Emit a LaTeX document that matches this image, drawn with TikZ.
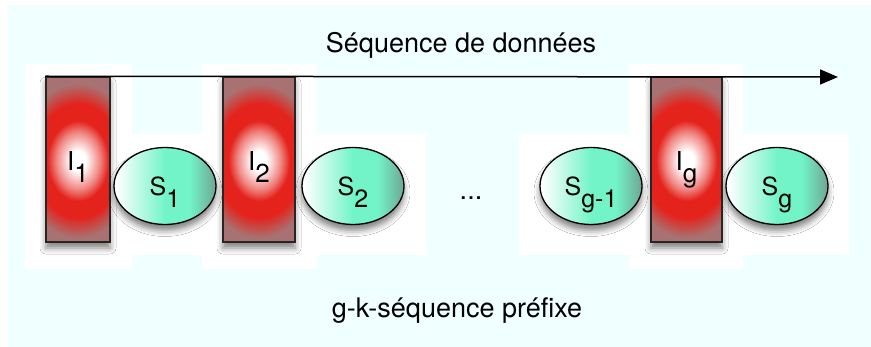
\documentclass[tikz,border=0pt]{standalone}
\usepackage{fontspec}
\setmainfont{TeX Gyre Heros}
\usetikzlibrary{arrows.meta,shapes.geometric,shadows.blur}

\definecolor{bgcyan}{HTML}{F0FFFF}
\definecolor{glowred}{HTML}{E4231C}
\definecolor{dullred}{HTML}{A87272}
\definecolor{aqua}{HTML}{72F4C8}
\definecolor{sage}{HTML}{6FA593}

\pgfdeclareradialshading{redglow}{\pgfpoint{0bp}{0bp}}{color(0bp)=(white);
  color(3bp)=(white); color(8.5bp)=(white!45!glowred); color(12bp)=(glowred);
  color(17bp)=(glowred); color(23bp)=(dullred); color(50bp)=(dullred)}
\pgfdeclarehorizontalshading{aquafade}{100bp}{color(0bp)=(white);
  color(26bp)=(white); color(50bp)=(aqua); color(62bp)=(aqua);
  color(75bp)=(sage); color(100bp)=(sage)}

\newcommand\idx[1]{\raisebox{-0.45em}{#1}}

\tikzset{
  softshadow/.style={blur shadow={shadow xshift=0pt,shadow yshift=-6pt,
      shadow blur radius=6pt,shadow opacity=50}},
  itembox/.style={draw=black!85,line width=1.5pt,minimum height=165pt,
      inner sep=0pt,fill=dullred,softshadow,font=\fontsize{26}{28}\selectfont,
      text height=23pt,text depth=0pt,
      path picture={\shade[shading=redglow]
        ([shift={(-64pt,-85pt)}]path picture bounding box.center) rectangle
        ([shift={(64pt,75pt)}]path picture bounding box.center);}},
  seqblob/.style={ellipse,draw=black,line width=1.3pt,minimum width=102pt,
      minimum height=77pt,inner sep=0pt,softshadow,shading=aquafade,
      font=\fontsize{25}{28}\selectfont,text height=20pt,text depth=0pt},
  caption/.style={anchor=base,font=\fontsize{27}{30}\selectfont},
}

\begin{document}
\begin{tikzpicture}[x=1pt,y=-1pt]
      \useasboundingbox (0,0) rectangle (871,347) ;
      \fill[bgcyan] (8,5) rectangle (871,347) ;
      % white patches behind the shapes
      \fill[white] (25,64) rectangle (132,269) (132,134) rectangle (202,255) ;
      \fill[white] (202,64) rectangle (317,269) (317,134) rectangle (426,255) ;
      \fill[white] (519,134) rectangle (629,255) (629,64) rectangle (743,269) ;
      \fill[white] (743,134) rectangle (849,255) ;
      \node[itembox,minimum width=64pt] (i1) at (78,159.5) {I\idx{1}} ;
      \node[seqblob] (s1) at (165,186) {S\idx{1}} ;
      \node[itembox,minimum width=72pt] (i2) at (259,159.5) {I\idx{2}} ;
      \node[seqblob] (s2) at (353,186) {S\idx{2}} ;
      \node[caption] (dots) at (471,200) {...} ;
      \node[seqblob] (sg1) at (591,186) {S\idx{g-1}} ;
      \node[itembox,minimum width=71pt] (ig) at (686.5,159.5) {I\idx{g}} ;
      \node[seqblob] (sg) at (777,186) {S\idx{g}} ;
      \coordinate (flowend) at (838,77) ;
      \draw[line width=1.5pt,-{Triangle[length=18pt,width=15pt]}] %
      (i1.north west) -- (flowend) ;
      \node[caption] (flow) at (461,53) {Séquence de données} ;
      \node[caption] (prefix) at (457,318) {g-k-séquence préfixe} ;
    \end{tikzpicture}
\end{document}
